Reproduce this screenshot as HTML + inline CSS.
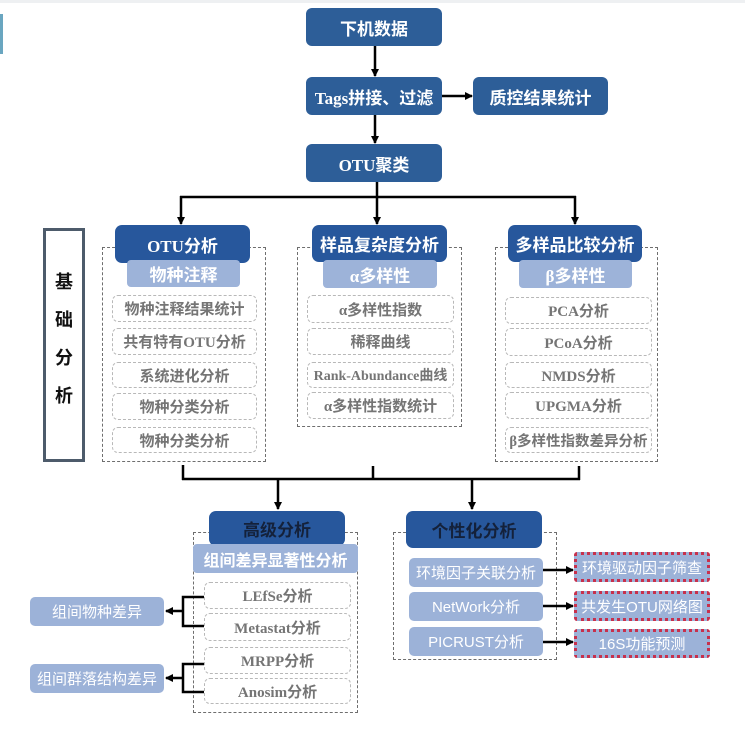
<!DOCTYPE html>
<html><head><meta charset="utf-8">
<style>
html,body{margin:0;padding:0;}
body{width:745px;height:730px;position:relative;background:#fff;overflow:hidden;font-family:"Liberation Serif","Noto Sans CJK SC",serif;}
.b{position:absolute;box-sizing:border-box;display:flex;align-items:center;justify-content:center;white-space:nowrap;}
.dk{background:#2d5e98;color:#fff;font-weight:bold;font-size:17px;border-radius:6px;}
.dk2{background:#27579c;color:#fff;font-weight:bold;font-size:17px;border-radius:7px;}
.lt{background:#9db3d9;color:#fff;font-weight:bold;font-size:17px;border-radius:4px;}
.ltn{background:#9cb2d8;color:#fff;font-size:15px;border-radius:5px;font-family:"Liberation Sans","Noto Sans CJK SC",sans-serif;}
.it{background:#fff;border:1px dashed #b8b8b8;border-radius:6px;color:#757575;font-weight:bold;font-size:15px;}
.dash{position:absolute;box-sizing:border-box;border:1.3px dashed #6e6e6e;}
.red{background:#9cb2d8;color:#fff;font-size:15px;border:3px dotted #c8304c;border-radius:3px;font-family:"Liberation Sans","Noto Sans CJK SC",sans-serif;}
svg{position:absolute;left:0;top:0;}
</style></head><body>
<div style="position:absolute;left:0;top:0;width:745px;height:3px;background:#eef0f2"></div>
<div style="position:absolute;left:0;top:14px;width:3px;height:40px;background:#6aa6c0"></div>

<!-- top flow -->
<div class="b dk" style="left:306px;top:8px;width:136px;height:38px;">下机数据</div>
<div class="b dk" style="left:306px;top:77px;width:136px;height:38px;">Tags拼接、过滤</div>
<div class="b dk" style="left:473px;top:77px;width:135px;height:38px;">质控结果统计</div>
<div class="b dk" style="left:306px;top:144px;width:136px;height:38px;">OTU聚类</div>

<!-- 基础分析 -->
<div class="b" style="left:43px;top:228px;width:42px;height:234px;border:3px solid #4d5b6b;flex-direction:column;font-family:'Liberation Sans','Noto Sans CJK SC',sans-serif;font-weight:bold;font-size:18px;color:#111;line-height:38px;padding-bottom:12px;">基<br>础<br>分<br>析</div>

<!-- column 1 -->
<div class="dash" style="left:102px;top:247px;width:164px;height:215px;"></div>
<div class="b dk2" style="left:115px;top:225px;width:135px;height:38px;">OTU分析</div>
<div class="b lt" style="left:127px;top:260px;width:113px;height:27px;">物种注释</div>
<div class="b it" style="left:112px;top:295px;width:145px;height:27px;">物种注释结果统计</div>
<div class="b it" style="left:112px;top:328px;width:145px;height:27px;">共有特有OTU分析</div>
<div class="b it" style="left:112px;top:362px;width:145px;height:26px;">系统进化分析</div>
<div class="b it" style="left:112px;top:393px;width:145px;height:27px;">物种分类分析</div>
<div class="b it" style="left:112px;top:427px;width:145px;height:26px;">物种分类分析</div>

<!-- column 2 -->
<div class="dash" style="left:297px;top:247px;width:165px;height:180px;"></div>
<div class="b dk2" style="left:312px;top:225px;width:135px;height:37px;">样品复杂度分析</div>
<div class="b lt" style="left:323px;top:260px;width:114px;height:28px;">α多样性</div>
<div class="b it" style="left:307px;top:295px;width:147px;height:28px;">α多样性指数</div>
<div class="b it" style="left:307px;top:328px;width:147px;height:27px;">稀释曲线</div>
<div class="b it" style="left:307px;top:362px;width:147px;height:26px;font-size:14px;">Rank-Abundance曲线</div>
<div class="b it" style="left:307px;top:392px;width:147px;height:27px;">α多样性指数统计</div>

<!-- column 3 -->
<div class="dash" style="left:495px;top:247px;width:163px;height:215px;"></div>
<div class="b dk2" style="left:508px;top:225px;width:134px;height:37px;">多样品比较分析</div>
<div class="b lt" style="left:519px;top:260px;width:113px;height:28px;">β多样性</div>
<div class="b it" style="left:505px;top:297px;width:147px;height:27px;">PCA分析</div>
<div class="b it" style="left:505px;top:328px;width:147px;height:28px;">PCoA分析</div>
<div class="b it" style="left:505px;top:362px;width:147px;height:26px;">NMDS分析</div>
<div class="b it" style="left:505px;top:392px;width:147px;height:27px;">UPGMA分析</div>
<div class="b it" style="left:505px;top:427px;width:147px;height:26px;font-size:14.5px;">β多样性指数差异分析</div>

<!-- 高级分析 -->
<div class="dash" style="left:193px;top:532px;width:165px;height:181px;"></div>
<div class="b dk2" style="left:209px;top:511px;width:136px;height:35px;color:#14213a;">高级分析</div>
<div class="b lt" style="left:193px;top:544px;width:165px;height:29px;font-size:16px;">组间差异显著性分析</div>
<div class="b it" style="left:204px;top:582px;width:147px;height:27px;">LEfSe分析</div>
<div class="b it" style="left:204px;top:613px;width:147px;height:28px;">Metastat分析</div>
<div class="b it" style="left:204px;top:647px;width:147px;height:27px;">MRPP分析</div>
<div class="b it" style="left:204px;top:678px;width:147px;height:26px;">Anosim分析</div>
<div class="b ltn" style="left:30px;top:597px;width:134px;height:29px;">组间物种差异</div>
<div class="b ltn" style="left:30px;top:664px;width:134px;height:29px;">组间群落结构差异</div>

<!-- 个性化分析 -->
<div class="dash" style="left:393px;top:532px;width:164px;height:128px;"></div>
<div class="b dk2" style="left:406px;top:511px;width:136px;height:37px;color:#14213a;">个性化分析</div>
<div class="b ltn" style="left:409px;top:558px;width:134px;height:29px;">环境因子关联分析</div>
<div class="b ltn" style="left:409px;top:592px;width:134px;height:29px;">NetWork分析</div>
<div class="b ltn" style="left:409px;top:627px;width:134px;height:29px;">PICRUST分析</div>
<div class="b red" style="left:574px;top:552px;width:136px;height:30px;">环境驱动因子筛查</div>
<div class="b red" style="left:574px;top:591px;width:136px;height:30px;">共发生OTU网络图</div>
<div class="b red" style="left:574px;top:629px;width:136px;height:29px;">16S功能预测</div>

<svg width="745" height="730" viewBox="0 0 745 730">
<defs>
<marker id="ah" markerWidth="8" markerHeight="8" refX="7" refY="4" orient="auto" markerUnits="userSpaceOnUse">
<path d="M0,0 L8,4 L0,8 z" fill="#000"/>
</marker>
</defs>
<g stroke="#000" stroke-width="2.5" fill="none">
<line x1="375" y1="46" x2="375" y2="76" marker-end="url(#ah)"/>
<line x1="442" y1="96" x2="472" y2="96" marker-end="url(#ah)"/>
<line x1="375" y1="115" x2="375" y2="143" marker-end="url(#ah)"/>
<line x1="377" y1="182" x2="377" y2="224" marker-end="url(#ah)"/>
<line x1="180" y1="197" x2="576" y2="197"/>
<line x1="181" y1="196" x2="181" y2="224" marker-end="url(#ah)"/>
<line x1="575" y1="196" x2="575" y2="224" marker-end="url(#ah)"/>
<line x1="182" y1="479" x2="580" y2="479"/>
<line x1="183" y1="465" x2="183" y2="480"/>
<line x1="373" y1="466" x2="373" y2="480"/>
<line x1="579" y1="466" x2="579" y2="480"/>
<line x1="278" y1="479" x2="278" y2="509" marker-end="url(#ah)"/>
<line x1="472" y1="479" x2="472" y2="509" marker-end="url(#ah)"/>
<polyline points="204,597 183,597 183,626 204,626"/>
<line x1="183" y1="611" x2="166" y2="611" marker-end="url(#ah)"/>
<polyline points="204,664 183,664 183,692 204,692"/>
<line x1="183" y1="678" x2="166" y2="678" marker-end="url(#ah)"/>
<line x1="543" y1="570" x2="573" y2="570" marker-end="url(#ah)"/>
<line x1="543" y1="606" x2="573" y2="606" marker-end="url(#ah)"/>
<line x1="543" y1="642" x2="573" y2="642" marker-end="url(#ah)"/>
</g>
</svg>
</body></html>
